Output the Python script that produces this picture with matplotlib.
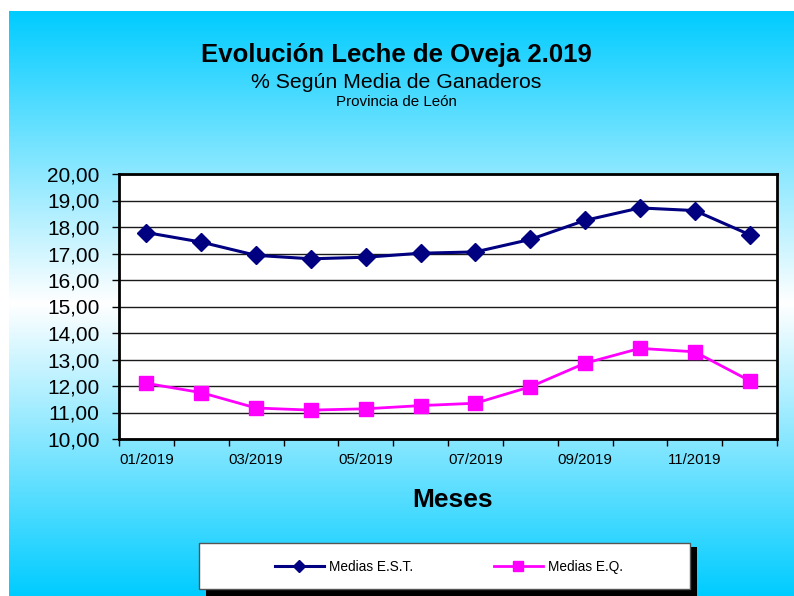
import matplotlib
matplotlib.use("Agg")
import matplotlib.pyplot as plt
import numpy as np
from matplotlib.lines import Line2D
from matplotlib.patches import Rectangle
from matplotlib.ticker import FuncFormatter, FixedLocator

plt.rcParams['font.family'] = ['Liberation Sans', 'DejaVu Sans']

months = ["01/2019", "02/2019", "03/2019", "04/2019", "05/2019", "06/2019",
          "07/2019", "08/2019", "09/2019", "10/2019", "11/2019", "12/2019"]
medias_est = [17.79, 17.43, 16.93, 16.80, 16.86, 17.01, 17.06, 17.53, 18.25, 18.72, 18.62, 17.71]
medias_eq = [12.10, 11.75, 11.17, 11.09, 11.14, 11.26, 11.35, 11.97, 12.86, 13.42, 13.29, 12.20]
y_ticks = [10, 11, 12, 13, 14, 15, 16, 17, 18, 19, 20]

W, H = 794, 596
fig = plt.figure(figsize=(W / 100, H / 100), dpi=100)
fig.patch.set_facecolor('white')

# gradient background
bg = fig.add_axes([9 / W, 0, (W - 9) / W, (H - 11) / H], zorder=-10)
n = 512
t = np.abs(np.linspace(-1, 1, n))[:, None]
cyan = np.array([0, 204, 255]) / 255.0
white = np.array([1.0, 1.0, 1.0])
grad = white * (1 - t[..., None]) + cyan * t[..., None]
grad = np.repeat(grad, 2, axis=1)
bg.imshow(grad, aspect='auto', extent=[0, 1, 0, 1], interpolation='bilinear')
bg.set_axis_off()

ax = fig.add_axes([119 / W, (H - 439) / H, (777 - 119) / W, (439 - 174) / H])
ax.set_facecolor('white')
x = np.arange(len(months))
ax.plot(x, medias_est, color='#000080', lw=2.2, marker='D', ms=9.5,
        markeredgecolor='#000080', zorder=5, clip_on=False)
ax.plot(x, medias_eq, color='#FF00FF', lw=2.0, marker='s', ms=10.5,
        markeredgecolor='#FF00FF', zorder=5, clip_on=False)

ax.set_xlim(-0.5, len(months) - 0.5)
ax.set_ylim(10, 20)
ax.set_yticks(y_ticks)
ax.yaxis.set_major_formatter(FuncFormatter(lambda v, p: f"{v:.2f}".replace('.', ',')))
ax.grid(axis='y', color='#1a1a1a', lw=1.0)
ax.set_axisbelow(True)

# x ticks at category boundaries, labels every other category
ax.xaxis.set_major_locator(FixedLocator(np.arange(-0.5, len(months), 1.0)))
ax.xaxis.set_major_formatter(FuncFormatter(lambda v, p: ""))
ax.xaxis.set_minor_locator(FixedLocator(x[::2]))
ax.set_xticklabels([months[i] for i in x[::2]], minor=True)
ax.tick_params(axis='x', which='major', length=5, width=1, color='black', direction='out')
ax.tick_params(axis='x', which='minor', length=0, pad=10, labelsize=10.8)
ax.tick_params(axis='y', length=5, width=1, color='black', direction='out', pad=9, labelsize=15)

for s in ax.spines.values():
    s.set_linewidth(2.0)
    s.set_color('black')

# titles
fig.text(396 / W, 1 - 62 / H, "Evolución Leche de Oveja 2.019", ha='center', va='baseline',
         fontsize=18.5, fontweight='bold')
fig.text(396 / W, 1 - 88 / H, "% Según Media de Ganaderos", ha='center', va='baseline',
         fontsize=15.3)
fig.text(396 / W, 1 - 106 / H, "Provincia de León", ha='center', va='baseline', fontsize=10.9)
fig.text(453 / W, 1 - 507 / H, "Meses", ha='center', va='baseline', fontsize=19, fontweight='bold')

# legend box with shadow
fig.patches.append(Rectangle((206 / W, 0), 491 / W, 49 / H, transform=fig.transFigure,
                             facecolor='black', edgecolor='none', zorder=1))
fig.patches.append(Rectangle((199 / W, (H - 589) / H), 491 / W, 46 / H, transform=fig.transFigure,
                             facecolor='white', edgecolor='#555555', lw=1, zorder=2))
handles = [Line2D([], [], color='#000080', lw=2.2, marker='D', ms=6),
           Line2D([], [], color='#FF00FF', lw=2.0, marker='s', ms=7)]
leg = fig.legend(handles, ["Medias E.S.T.", "Medias E.Q."], loc='center',
                 bbox_to_anchor=(449 / W, 1 - 567 / H), ncol=2, frameon=False, fontsize=9.8,
                 handlelength=3.6, handletextpad=0.4, columnspacing=5.9)
leg.set_zorder(3)

fig.savefig("out.png", dpi=100)
